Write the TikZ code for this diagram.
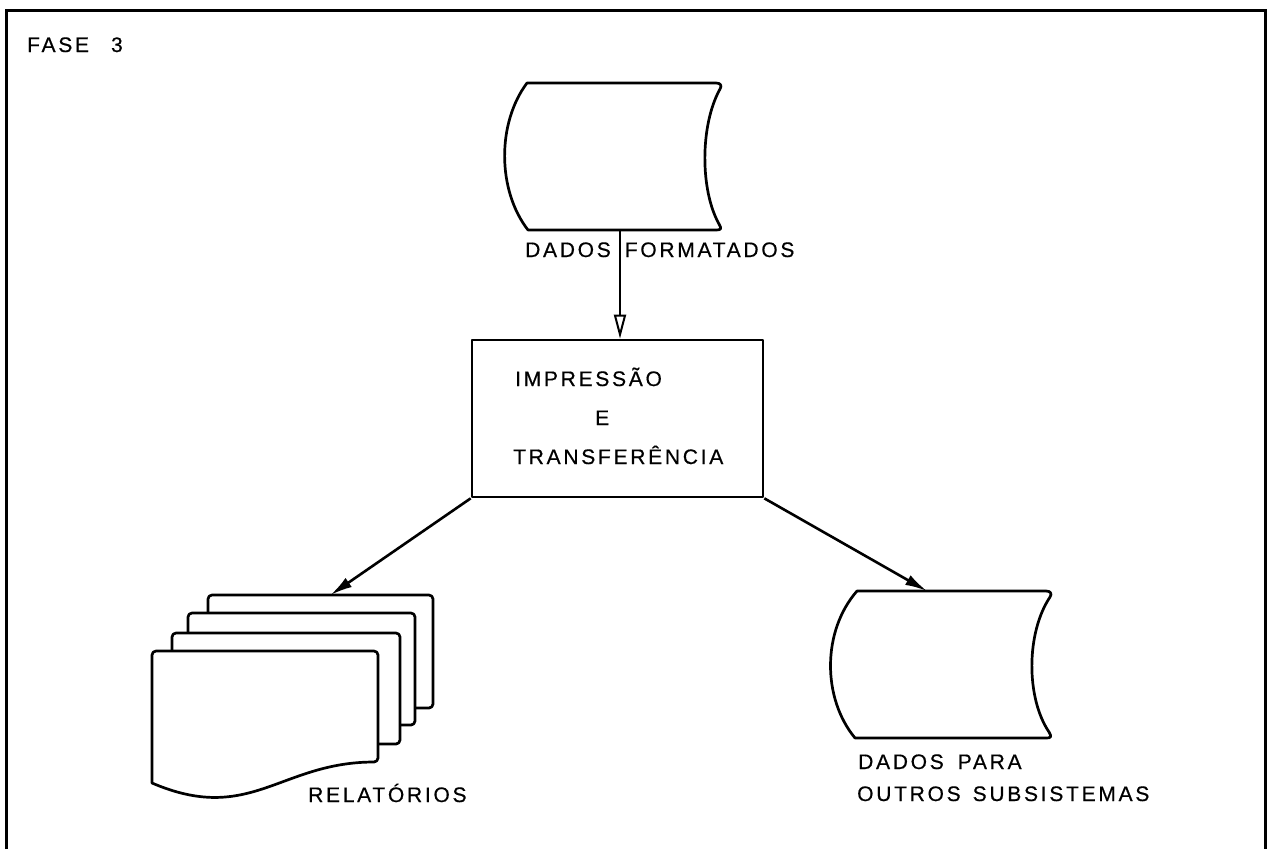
\documentclass[tikz,border=0pt]{standalone}
\usepackage{fontspec}
\newfontfamily\lett[LetterSpace=13,FakeBold=0.5]{Liberation Sans}
\usetikzlibrary{arrows.meta}
\begin{document}
\begin{tikzpicture}[x=1pt,y=-1pt,
  lbl/.style={anchor=base west,inner sep=0pt,font=\lett\fontsize{21}{25}\selectfont},
  shp/.style={line width=2.7pt,line join=round},
  frm/.style={line width=3pt},
  ghost/.style={inner sep=0pt,outer sep=0pt,draw=none},
  conn/.style={line width=2.6pt},
  sheet/.style={shp,fill=white,rounded corners=4pt}]
\useasboundingbox (0,0) rectangle (1273,849);
% frame
\draw[frm] (6,849) -- (6,10) -- (1265,10) -- (1265,849);
\node[lbl] (fase) at (27,52) {FASE\hspace{22pt}3};
% top storage
\node[ghost,minimum width=206pt,minimum height=147pt] (df) at (620,156.5) {};
\draw[shp] (527,83) -- (716,83) .. controls (721,83) and (722,86) .. (720,89)
  .. controls (700,125) and (700,190) .. (719,224) .. controls (722,229) and (721,230) .. (716,230)
  -- (528,230) .. controls (497,190) and (497,123) .. (527,83) -- cycle;
\node[lbl] (dflabel) at (525,257) {DADOS\hspace{14pt}FORMATADOS};
% process box
\node[draw,shp,minimum width=291pt,minimum height=157pt] (proc) at (617.5,418.5) {};
\node[lbl] (l1) at (515,386) {IMPRESSÃO};
\node[lbl] (l2) at (595,425) {E};
\node[lbl] (l3) at (513,464) {TRANSFERÊNCIA};
% reports
\node[ghost,minimum width=225pt,minimum height=113pt] (rep) at (320.5,651.5) {};
\draw[sheet] (208,595) rectangle (433,708);
\draw[sheet] (188,613) rectangle (415,725);
\draw[sheet] (172,633) rectangle (400,744);
\draw[shp,fill=white,rounded corners=4pt] (152,783) -- (152,651) -- (378,651) -- (378,762)
  [sharp corners] .. controls (280,762) and (250,825) .. (152,783) -- cycle;
\node[lbl] (replabel) at (308,802) {RELATÓRIOS};
% right storage
\node[ghost,minimum width=222pt,minimum height=147pt] (ds) at (941,664.5) {};
\draw[shp] (857,591) -- (1046,591) .. controls (1051,591) and (1052,594) .. (1050,597)
  .. controls (1026,633) and (1026,698) .. (1049,732) .. controls (1052,737) and (1051,738) .. (1046,738)
  -- (855,738) .. controls (822,698) and (822,631) .. (857,591) -- cycle;
\node[lbl] (ds1) at (858,769) {DADOS\hspace{14pt}PARA};
\node[lbl] (ds2) at (857,801) {OUTROS\hspace{12pt}SUBSISTEMAS};
% connectors
\draw[conn,-{Triangle[open,length=24pt,width=12pt,line width=2pt]}] (df.south) -- (df.south |- proc.north);
\draw[conn,-{Latex[length=22pt,width=11pt]}] (proc.south west) -- ([xshift=10pt]rep.north);
\draw[conn,-{Latex[length=22pt,width=11pt]}] (proc.south east) -- ([xshift=-14pt]ds.north);
\end{tikzpicture}
\end{document}
